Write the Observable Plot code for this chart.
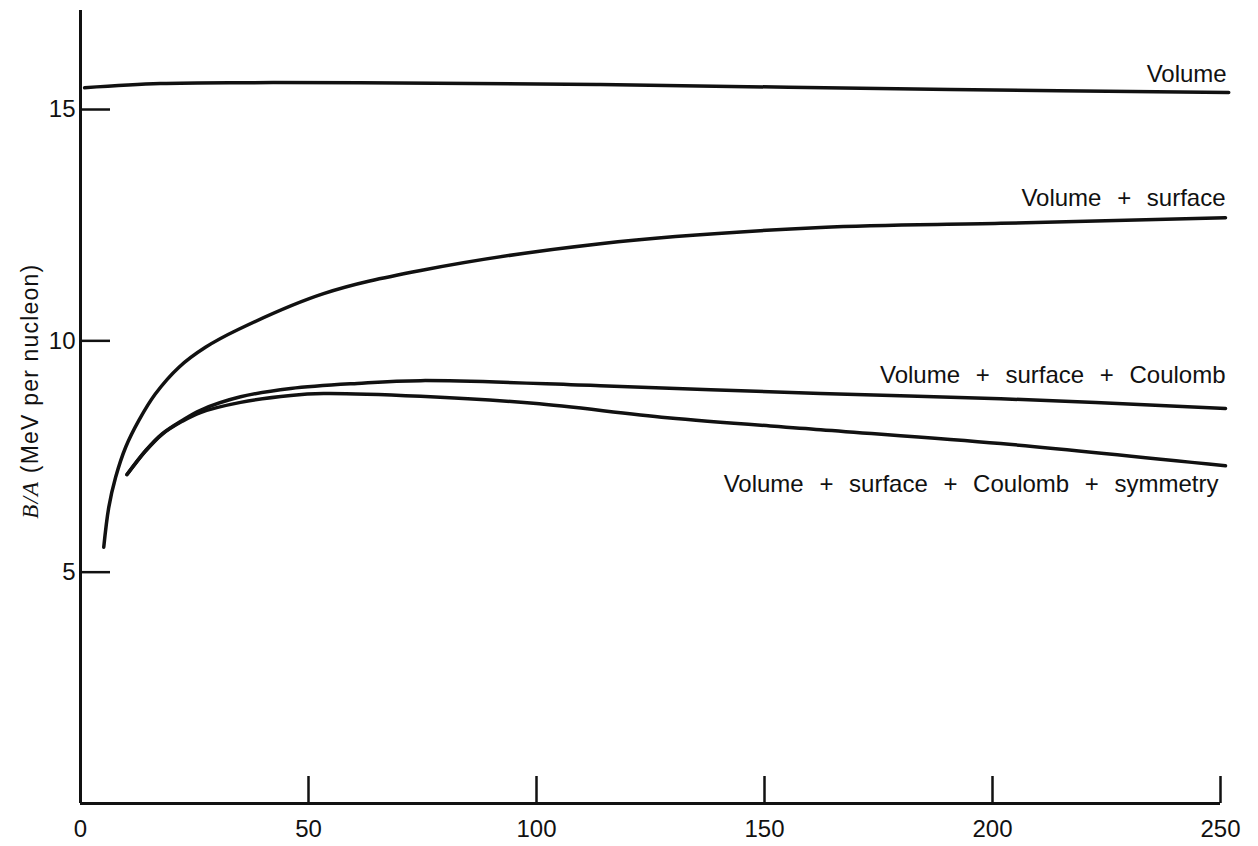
<!DOCTYPE html>
<html>
<head>
<meta charset="utf-8">
<script src="https://cdn.jsdelivr.net/npm/d3@7"></script>
<script src="https://cdn.jsdelivr.net/npm/@observablehq/plot@0.6"></script>
<style>
  html, body { margin: 0; padding: 0; background: #fff; }
  .curve-label { word-spacing: 9px; }
</style>
</head>
<body>
<div id="chart"></div>
<script>
// Tick values / labels
const xTicks = [50, 100, 150, 200, 250];
const xTickLabels = [0, 50, 100, 150, 200, 250];
const yTicks = [5, 10, 15];

// Series names (used as curve labels)
const seriesNames = [
  "Volume",
  "Volume + surface",
  "Volume + surface + Coulomb",
  "Volume + surface + Coulomb + symmetry"
];

// Values: mass number A and B/A (MeV per nucleon)
const volumeA  = [0.9, 17.5, 37.3, 61.4, 114.0, 190.8, 251.8];
const volumeBA = [15.47, 15.56, 15.58, 15.58, 15.54, 15.43, 15.37];

const surfaceA  = [5.1, 6.2, 7.7, 9.9, 12.8, 16.4, 21.6, 27.4, 34.7, 53.3, 74.6, 114.0, 162.3, 201.8, 251.1];
const surfaceBA = [5.54, 6.40, 7.05, 7.70, 8.28, 8.85, 9.43, 9.86, 10.25, 11.02, 11.52, 12.10, 12.45, 12.54, 12.66];

const coulombA  = [10.2, 14.3, 17.9, 22.3, 26.3, 35.1, 46.1, 60.7, 74.6, 114.0, 162.3, 201.8, 251.1];
const coulombBA = [7.11, 7.63, 7.99, 8.28, 8.50, 8.79, 8.97, 9.08, 9.14, 9.03, 8.86, 8.75, 8.54];

const symmetryA  = [10.2, 14.3, 17.9, 22.3, 26.3, 35.1, 46.1, 53.3, 74.6, 99.3, 128.7, 162.3, 201.8, 251.1];
const symmetryBA = [7.11, 7.62, 7.98, 8.26, 8.45, 8.67, 8.82, 8.86, 8.80, 8.65, 8.34, 8.08, 7.78, 7.30];

// Build a tidy table for Plot
const seriesValues = [
  [volumeA, volumeBA],
  [surfaceA, surfaceBA],
  [coulombA, coulombBA],
  [symmetryA, symmetryBA]
];
const data = seriesValues.flatMap(([xs, ys], i) =>
  xs.map((a, j) => ({series: seriesNames[i], A: a, BA: ys[j]}))
);
const lastOf = (name) => [data.filter(d => d.series === name).at(-1)];

const ink = "#111";
const labelOpts = {x: "A", y: "BA", text: "series", textAnchor: "end", fontSize: 24, fill: ink, className: "curve-label"};

const chart = Plot.plot({
  width: 1258,
  height: 846,
  marginLeft: 80,
  marginRight: 38,
  marginTop: 10,
  marginBottom: 43,
  style: {fontFamily: "'Liberation Sans', Arial, sans-serif", fontSize: "24px", background: "#fff", color: ink},
  x: {domain: [0, 250]},
  y: {domain: [0, 17.14]},
  marks: [
    // axis lines
    Plot.ruleX([0], {stroke: ink, strokeWidth: 3}),
    Plot.ruleY([0], {x1: 0, x2: 250, stroke: ink, strokeWidth: 3}),
    // inward tick marks
    Plot.axisY(yTicks, {tickSize: 30, dx: 30, fill: "none", stroke: ink, strokeWidth: 2.5, label: null}),
    Plot.axisX(xTicks, {tickSize: 27, dy: -27, fill: "none", stroke: ink, strokeWidth: 2.5, label: null}),
    // tick labels
    Plot.axisY(yTicks, {tickSize: 0, tickPadding: 5, fontSize: 24, fill: ink, label: null}),
    Plot.axisX(xTickLabels, {tickSize: 0, tickPadding: 16, fontSize: 24, fill: ink, label: null}),
    // curves
    Plot.line(data, {x: "A", y: "BA", z: "series", stroke: ink, strokeWidth: 3.5, curve: "catmull-rom"}),
    // curve labels
    Plot.text(lastOf(seriesNames[0]), {...labelOpts, lineAnchor: "bottom", dy: -10, dx: -2}),
    Plot.text(lastOf(seriesNames[1]), {...labelOpts, lineAnchor: "bottom", dy: -12, dx: 0}),
    Plot.text(lastOf(seriesNames[2]), {...labelOpts, lineAnchor: "bottom", dy: -25, dx: 0}),
    Plot.text(lastOf(seriesNames[3]), {...labelOpts, lineAnchor: "top", dy: 9, dx: -7})
  ]
});

// Y-axis title with italic B/A
const svg = d3.select(chart);
const yTitle = svg.append("text")
  .attr("transform", `translate(38, ${chart.scale("y").apply(8.9)}) rotate(-90)`)
  .attr("text-anchor", "middle")
  .attr("fill", ink)
  .style("font-size", "23px")
  .style("letter-spacing", "1.2px")
  .style("font-family", "'Liberation Sans', Arial, sans-serif");
yTitle.append("tspan").style("font-family", "'Liberation Serif', 'Times New Roman', serif").style("font-style", "italic").text("B/A");
yTitle.append("tspan").text(" (MeV per nucleon)");

document.getElementById("chart").appendChild(chart);
</script>
</body>
</html>
